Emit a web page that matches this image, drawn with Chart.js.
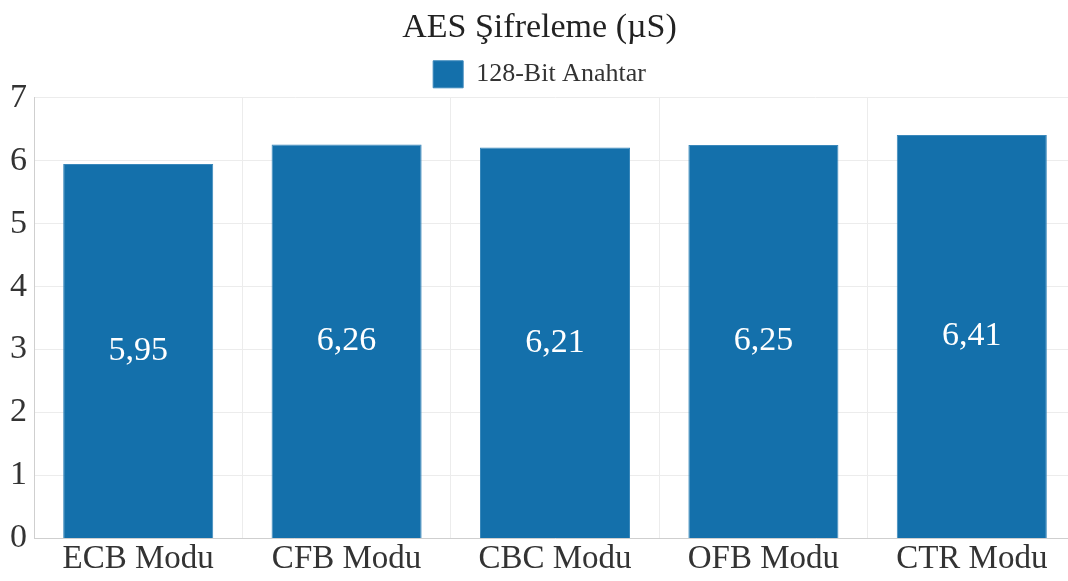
<!DOCTYPE html>
<html>
<head>
<meta charset="utf-8">
<script src="https://cdn.jsdelivr.net/npm/chart.js@4"></script>
<style>
  html, body { margin: 0; padding: 0; background: #fff; overflow: hidden; }
  #wrap { width: 1068px; height: 581px; overflow: hidden; }
</style>
</head>
<body>
<div id="wrap"><canvas id="aesChart" width="1086" height="581"></canvas></div>
<script>
const modes = ['ECB Modu', 'CFB Modu', 'CBC Modu', 'OFB Modu', 'CTR Modu'];
const key128 = [5.95, 6.26, 6.21, 6.25, 6.41];
const yTicks = [0, 1, 2, 3, 4, 5, 6, 7];

const serif = '"Liberation Serif", "Times New Roman", serif';

// write the value in the middle of each bar, comma decimal
const barValueLabels = {
    id: 'barValueLabels',
    afterDatasetsDraw(chart) {
        const ctx = chart.ctx;
        const meta = chart.getDatasetMeta(0);
        ctx.save();
        ctx.fillStyle = '#ffffff';
        ctx.font = '34px ' + serif;
        ctx.textAlign = 'center';
        ctx.textBaseline = 'middle';
        meta.data.forEach((bar, i) => {
            const txt = key128[i].toFixed(2).replace('.', ',');
            ctx.fillText(txt, bar.x, (bar.y + bar.base) / 2);
        });
        ctx.restore();
    }
};

new Chart(document.getElementById('aesChart').getContext('2d'), {
    type: 'bar',
    data: {
        labels: modes,
        datasets: [{
            label: '128-Bit Anahtar',
            data: key128,
            backgroundColor: '#1470ab',
            borderColor: '#3a88bb',
            borderWidth: 1,
            categoryPercentage: 0.72,
            barPercentage: 1
        }]
    },
    options: {
        responsive: false,
        animation: false,
        layout: { padding: { left: 3, right: 10, top: 0, bottom: 0 } },
        plugins: {
            title: {
                display: true,
                text: 'AES Şifreleme (µS)',
                color: '#222',
                font: { family: serif, size: 34, weight: 'normal' },
                padding: { top: 8, bottom: 9 }
            },
            legend: {
                position: 'top',
                labels: {
                    color: '#333',
                    font: { family: serif, size: 26 },
                    boxWidth: 30,
                    boxHeight: 27,
                    padding: 3
                }
            },
            tooltip: { enabled: false }
        },
        scales: {
            x: {
                grid: { color: '#ececec', offset: true, drawTicks: false },
                border: { color: '#cfcfcf' },
                ticks: { color: '#333', font: { family: serif, size: 33 }, padding: 1.5 }
            },
            y: {
                min: 0,
                max: 7,
                afterBuildTicks(axis) { axis.ticks = yTicks.map(v => ({ value: v })); },
                grid: { color: '#ececec', drawTicks: false },
                border: { color: '#cfcfcf' },
                ticks: { color: '#333', font: { family: serif, size: 34 }, padding: 7 }
            }
        }
    },
    plugins: [barValueLabels]
});
</script>
</body>
</html>
